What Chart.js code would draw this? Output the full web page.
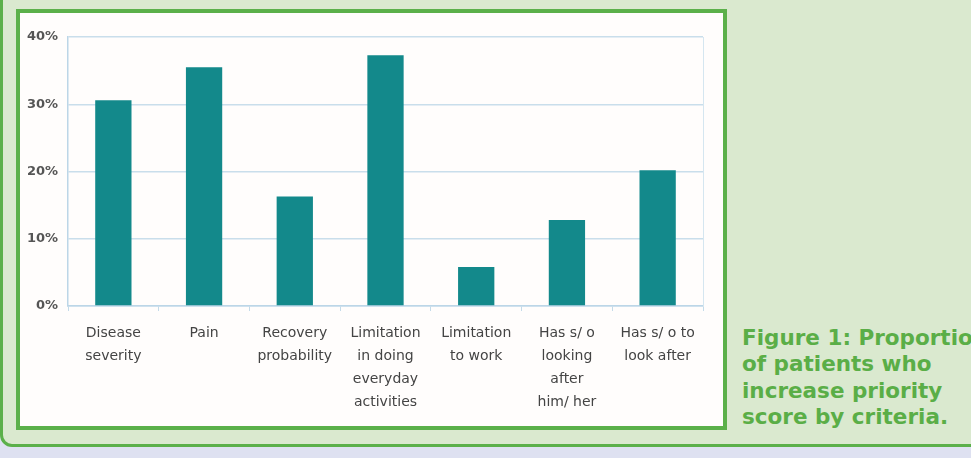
<!DOCTYPE html>
<html>
<head>
<meta charset="utf-8">
<script src="https://cdn.jsdelivr.net/npm/chart.js@4/dist/chart.umd.min.js"></script>
<style>
html,body{margin:0;padding:0;width:971px;height:458px;overflow:hidden;background:#dee1f1;}
#outer{position:absolute;left:0;top:-30px;width:1000px;height:477px;box-sizing:border-box;border:3px solid #5bb04a;border-radius:12px;background:#dae9cf;}
#inner{position:absolute;left:16px;top:9px;width:711px;height:421px;box-sizing:border-box;border:4px solid #5bb04a;background:#fffdfc;}
#wrap{position:absolute;left:0;top:0;width:703px;height:413px;}
#cap{position:absolute;left:742px;top:325px;font-family:"DejaVu Sans",Verdana,sans-serif;font-weight:bold;font-size:21.5px;line-height:26.3px;color:#5aae47;white-space:nowrap;}
</style>
</head>
<body>
<div id="outer"></div>
<div id="inner"><div id="wrap"><canvas id="c" width="703" height="413"></canvas></div></div>
<div id="cap">Figure 1: Proportion<br>of patients who<br>increase priority<br>score by criteria.</div>
<script>
const categories = [
  ["Disease","severity"],
  ["Pain"],
  ["Recovery","probability"],
  ["Limitation","in doing","everyday","activities"],
  ["Limitation","to work"],
  ["Has s/ o","looking","after","him/ her"],
  ["Has s/ o to","look after"]
];
const values = [30.6, 35.5, 16.3, 37.3, 5.8, 12.8, 20.2];
const yTicks = [0, 10, 20, 30, 40];

new Chart(document.getElementById('c'), {
  type: 'bar',
  data: {
    labels: categories,
    datasets: [{
      data: values,
      backgroundColor: '#13898b',
      borderWidth: 0,
      barPercentage: 0.8,
      categoryPercentage: 0.5
    }]
  },
  options: {
    responsive: false,
    animation: false,
    events: [],
    layout: {padding: {left: 0, right: 20, top: 24, bottom: 0}},
    plugins: {legend: {display: false}, tooltip: {enabled: false}},
    scales: {
      x: {
        grid: {offset: true, drawOnChartArea: false, color: '#c4dbe9', tickLength: 5},
        border: {color: '#bcd6e7', width: 1.5},
        ticks: {
          color: '#444', padding: 11, maxRotation: 0, autoSkip: false,
          font: {family: '"DejaVu Sans", Verdana, sans-serif', size: 14, lineHeight: 1.64}
        },
        afterFit: s => { s.height = 120; }
      },
      y: {
        min: 0, max: 40,
        afterBuildTicks: s => { s.ticks = yTicks.map(v => ({value: v})); },
        grid: {color: '#c9deeb', lineWidth: 1.5, drawTicks: false},
        border: {color: '#bcd6e7', width: 1.5},
        ticks: {
          color: '#555', padding: 10,
          font: {family: '"DejaVu Sans", Verdana, sans-serif', size: 13, weight: 'bold'},
          callback: v => v + '%'
        },
        afterFit: s => { s.width = 48; }
      },
      y2: {
        position: 'right', min: 0, max: 40,
        grid: {drawOnChartArea: false, drawTicks: false},
        border: {color: '#d5e6f0', width: 1},
        ticks: {display: false},
        afterFit: s => { s.width = 0; }
      }
    }
  }
});
</script>
</body>
</html>
